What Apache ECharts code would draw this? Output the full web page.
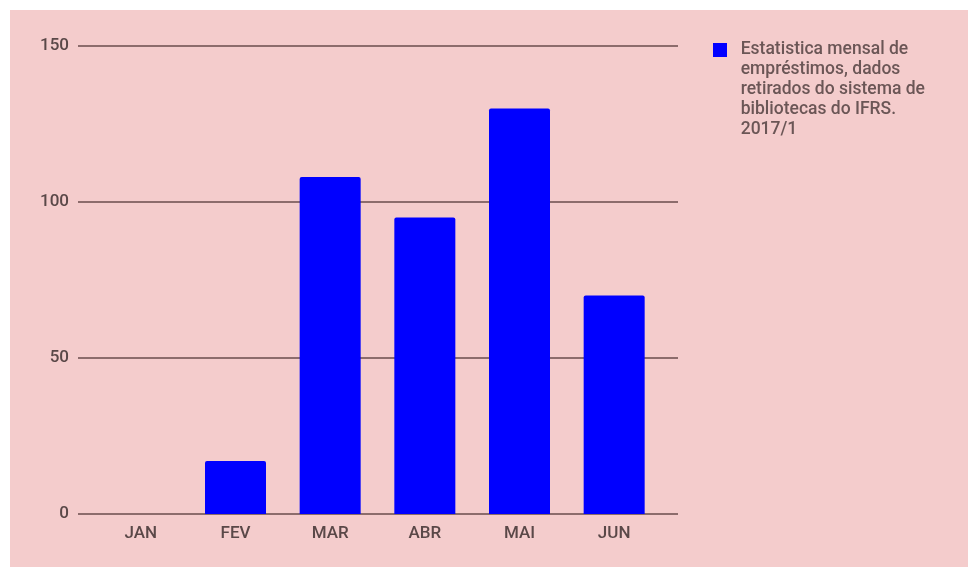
<!DOCTYPE html>
<html>
<head>
<meta charset="utf-8">
<script src="https://cdn.jsdelivr.net/npm/echarts@6/dist/echarts.min.js"></script>
<style>
html,body{margin:0;padding:0;background:#ffffff;}
#chart{position:absolute;left:10px;top:10px;width:958px;height:557px;}
</style>
</head>
<body>
<div id="chart"></div>
<script>
const categories = ['JAN', 'FEV', 'MAR', 'ABR', 'MAI', 'JUN'];
const values = [0, 17, 108, 95, 130, 70];
const seriesName = 'Estatistica mensal de\nempréstimos, dados\nretirados do sistema de\nbibliotecas do IFRS.\n2017/1';
const yTicks = [0, 50, 100, 150];

const chart = echarts.init(document.getElementById('chart'));
const font = 'Roboto, "Noto Sans", sans-serif';
chart.setOption({
  backgroundColor: '#f4cccc',
  animation: false,
  textStyle: { fontFamily: font },
  legend: {
    left: 703, top: -50,
    padding: 0,
    orient: 'vertical',
    itemWidth: 14, itemHeight: 14,
    itemGap: 0,
    icon: 'rect',
    data: [seriesName],
    formatter: function (name) {
      return ' \n \n \n \n' + name.split('\n').map(function (s) { return '  ' + s; }).join('\n');
    },
    textStyle: { fontSize: 17.5, fontWeight: 500, color: '#6b5656', lineHeight: 20, fontFamily: font }
  },
  grid: [
    { left: 68, top: 36, width: 600, height: 468 },
    { left: 83.5, top: 36, width: 568, height: 468 }
  ],
  xAxis: [
    { type: 'category', gridIndex: 0, data: categories, show: false },
    { type: 'category', gridIndex: 1, data: categories,
      axisLine: { show: false }, axisTick: { show: false },
      axisLabel: { margin: 11, fontSize: 17, fontWeight: 500, color: '#5a4848', fontFamily: font } }
  ],
  yAxis: [
    { type: 'value', gridIndex: 0, min: yTicks[0], max: yTicks[yTicks.length-1], interval: 50,
      axisLine: { show: false }, axisTick: { show: false },
      axisLabel: { margin: 9, fontSize: 17, fontWeight: 500, color: '#5a4848', fontFamily: font },
      splitLine: { lineStyle: { color: '#8c6c6c', width: 2 } } },
    { type: 'value', gridIndex: 1, min: yTicks[0], max: yTicks[yTicks.length-1], interval: 50, show: false }
  ],
  series: [
    { name: seriesName, type: 'bar', xAxisIndex: 1, yAxisIndex: 1,
      data: values, barWidth: 61,
      itemStyle: { color: '#0000ff', borderRadius: [2,2,0,0] } }
  ]
});
</script>
</body>
</html>
